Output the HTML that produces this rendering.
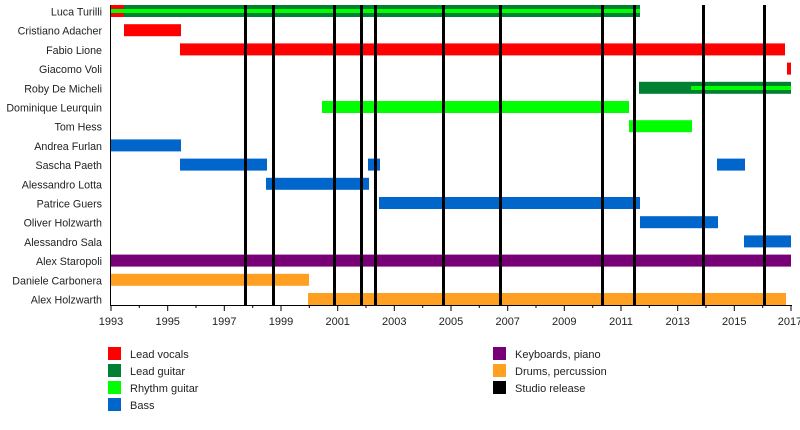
<!DOCTYPE html>
<html><head><style>body{margin:0;background:#fff}svg{display:block}text{font-family:"Liberation Sans",sans-serif;font-size:11px;fill:#222}.lab text{font-size:10.7px}</style></head>
<body>
<svg width="800" height="430" xmlns="http://www.w3.org/2000/svg">
<g text-anchor="end" class="lab">
<text x="102" y="15.5">Luca Turilli</text>
<text x="102" y="34.7">Cristiano Adacher</text>
<text x="102" y="53.9">Fabio Lione</text>
<text x="102" y="73.1">Giacomo Voli</text>
<text x="102" y="92.3">Roby De Micheli</text>
<text x="102" y="111.5">Dominique Leurquin</text>
<text x="102" y="130.7">Tom Hess</text>
<text x="102" y="149.9">Andrea Furlan</text>
<text x="102" y="169.1">Sascha Paeth</text>
<text x="102" y="188.3">Alessandro Lotta</text>
<text x="102" y="207.5">Patrice Guers</text>
<text x="102" y="226.7">Oliver Holzwarth</text>
<text x="102" y="245.9">Alessandro Sala</text>
<text x="102" y="265.1">Alex Staropoli</text>
<text x="102" y="284.3">Daniele Carbonera</text>
<text x="102" y="303.5">Alex Holzwarth</text>
</g>
<rect x="111" y="5" width="529" height="12" fill="#008033"/>
<rect x="111" y="5" width="13" height="12" fill="#ff0000"/>
<rect x="111" y="9" width="529" height="4" fill="#00ff00"/>
<rect x="124" y="24.2" width="57" height="12" fill="#ff0000"/>
<rect x="180" y="43.4" width="605" height="12" fill="#ff0000"/>
<rect x="787" y="62.6" width="4" height="12" fill="#ff0000"/>
<rect x="639" y="81.8" width="152" height="12" fill="#008033"/>
<rect x="691" y="86" width="100" height="4" fill="#00ff00"/>
<rect x="322" y="101" width="307" height="12" fill="#00ff00"/>
<rect x="629" y="120.2" width="63" height="12" fill="#00ff00"/>
<rect x="111" y="139.4" width="70" height="12" fill="#0066cc"/>
<rect x="180" y="158.6" width="87" height="12" fill="#0066cc"/>
<rect x="368" y="158.6" width="12" height="12" fill="#0066cc"/>
<rect x="717" y="158.6" width="28" height="12" fill="#0066cc"/>
<rect x="266" y="177.8" width="103" height="12" fill="#0066cc"/>
<rect x="379" y="197" width="261" height="12" fill="#0066cc"/>
<rect x="640" y="216.2" width="78" height="12" fill="#0066cc"/>
<rect x="744" y="235.4" width="47" height="12" fill="#0066cc"/>
<rect x="111" y="254.6" width="680" height="12" fill="#770077"/>
<rect x="111" y="273.8" width="198" height="12" fill="#ffa023"/>
<rect x="308" y="293" width="478" height="12" fill="#ffa023"/>
<g fill="#000">
<rect x="244" y="5" width="3" height="300"/>
<rect x="272" y="5" width="3" height="300"/>
<rect x="333" y="5" width="3" height="300"/>
<rect x="360" y="5" width="3" height="300"/>
<rect x="374" y="5" width="3" height="300"/>
<rect x="442" y="5" width="3" height="300"/>
<rect x="499" y="5" width="3" height="300"/>
<rect x="601" y="5" width="3" height="300"/>
<rect x="633" y="5" width="3" height="300"/>
<rect x="702" y="5" width="3" height="300"/>
<rect x="763" y="5" width="3" height="300"/>
</g>
<line x1="110.5" y1="5" x2="110.5" y2="305" stroke="#000"/>
<line x1="110" y1="305.5" x2="792" y2="305.5" stroke="#000"/>
<g stroke="#000">
<line x1="111" y1="305" x2="111" y2="311"/><line x1="139.3" y1="305" x2="139.3" y2="308"/>
<line x1="167.7" y1="305" x2="167.7" y2="311"/><line x1="196" y1="305" x2="196" y2="308"/>
<line x1="224.3" y1="305" x2="224.3" y2="311"/><line x1="252.7" y1="305" x2="252.7" y2="308"/>
<line x1="281" y1="305" x2="281" y2="311"/><line x1="309.3" y1="305" x2="309.3" y2="308"/>
<line x1="337.7" y1="305" x2="337.7" y2="311"/><line x1="366" y1="305" x2="366" y2="308"/>
<line x1="394.3" y1="305" x2="394.3" y2="311"/><line x1="422.7" y1="305" x2="422.7" y2="308"/>
<line x1="451" y1="305" x2="451" y2="311"/><line x1="479.3" y1="305" x2="479.3" y2="308"/>
<line x1="507.7" y1="305" x2="507.7" y2="311"/><line x1="536" y1="305" x2="536" y2="308"/>
<line x1="564.3" y1="305" x2="564.3" y2="311"/><line x1="592.7" y1="305" x2="592.7" y2="308"/>
<line x1="621" y1="305" x2="621" y2="311"/><line x1="649.3" y1="305" x2="649.3" y2="308"/>
<line x1="677.7" y1="305" x2="677.7" y2="311"/><line x1="706" y1="305" x2="706" y2="308"/>
<line x1="734.3" y1="305" x2="734.3" y2="311"/><line x1="762.7" y1="305" x2="762.7" y2="308"/>
<line x1="791" y1="305" x2="791" y2="311"/>
</g>
<g text-anchor="middle">
<text x="111" y="325">1993</text><text x="167.7" y="325">1995</text><text x="224.3" y="325">1997</text>
<text x="281" y="325">1999</text><text x="337.7" y="325">2001</text><text x="394.3" y="325">2003</text>
<text x="451" y="325">2005</text><text x="507.7" y="325">2007</text><text x="564.3" y="325">2009</text>
<text x="621" y="325">2011</text><text x="677.7" y="325">2013</text><text x="734.3" y="325">2015</text>
<text x="790" y="325">2017</text>
</g>
<rect x="108" y="347" width="13" height="13" fill="#ff0000"/><text x="130" y="358">Lead vocals</text>
<rect x="108" y="364" width="13" height="13" fill="#008033"/><text x="130" y="375">Lead guitar</text>
<rect x="108" y="381" width="13" height="13" fill="#00ff00"/><text x="130" y="392">Rhythm guitar</text>
<rect x="108" y="398" width="13" height="13" fill="#0066cc"/><text x="130" y="409">Bass</text>
<rect x="493" y="347" width="13" height="13" fill="#770077"/><text x="515" y="358">Keyboards, piano</text>
<rect x="493" y="364" width="13" height="13" fill="#ffa023"/><text x="515" y="375">Drums, percussion</text>
<rect x="493" y="381" width="13" height="13" fill="#000"/><text x="515" y="392">Studio release</text>
</svg>
</body></html>
